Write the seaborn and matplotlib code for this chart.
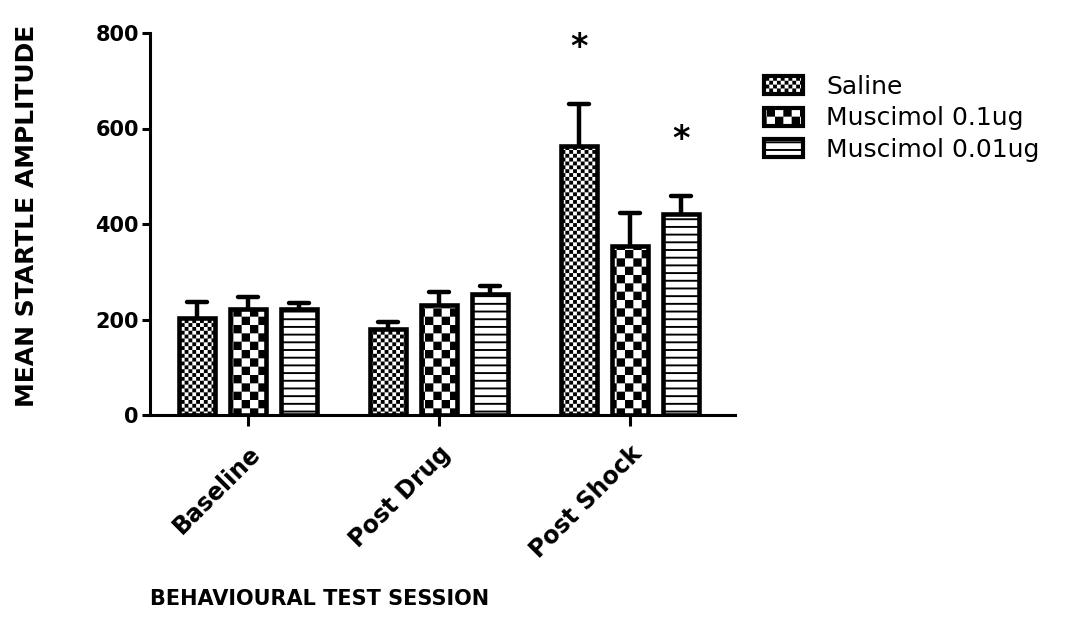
import numpy as np
import pandas as pd
import matplotlib
matplotlib.use("Agg")
import matplotlib.pyplot as plt
import matplotlib.hatch as mhatch
from matplotlib.path import Path
from matplotlib.patches import Patch
from matplotlib.markers import MarkerStyle
import seaborn as sns

# ---------------- data ----------------
sessions = ["Baseline", "Post Drug", "Post Shock"]
groups = ["Saline", "Muscimol 0.1ug", "Muscimol 0.01ug"]
saline_mean = [204, 180, 564]
saline_sem = [32, 14, 87]
musc01_mean = [222, 230, 353]
musc01_sem = [26, 28, 71]
musc001_mean = [223, 253, 421]
musc001_sem = [11, 18, 37]
significant = [("Post Shock", "Saline"), ("Post Shock", "Muscimol 0.01ug")]
yticks = [0, 200, 400, 600, 800]
xlabel = "BEHAVIOURAL TEST SESSION"
ylabel = "MEAN STARTLE AMPLITUDE"


# ---------------- custom fill patterns (checkerboards / bars) ----------------
class PatternHatch:
    """'o' -> fine checkerboard, 'O' -> coarse checkerboard, '-' -> horizontal bars"""

    def __init__(self, hatch, density):
        self.rects = []
        if "o" in hatch:
            self._checker(26)
        elif "O" in hatch:
            self._checker(12)
        elif "-" in hatch:
            n, t = 13, 0.019
            for i in range(n):
                yc = (i + 0.5) / n
                self.rects.append((0.0, yc - t / 2, 1.0, yc + t / 2))
        self.num_vertices = 5 * len(self.rects)

    def _checker(self, n):
        s = 1.0 / n
        for i in range(n):
            for j in range(n):
                if (i + j) % 2 == 0:
                    self.rects.append((i * s, j * s, (i + 1) * s, (j + 1) * s))

    def set_vertices_and_codes(self, vertices, codes):
        for k, (x0, y0, x1, y1) in enumerate(self.rects):
            vertices[5 * k:5 * k + 5] = [(x0, y0), (x1, y0), (x1, y1), (x0, y1), (x0, y0)]
            codes[5 * k:5 * k + 5] = [Path.MOVETO, Path.LINETO, Path.LINETO,
                                      Path.LINETO, Path.CLOSEPOLY]


mhatch._hatch_types = [PatternHatch]
hatches = {"Saline": "o", "Muscimol 0.1ug": "O", "Muscimol 0.01ug": "-"}

# ---------------- style ----------------
sns.set_style("ticks")
plt.rcParams["font.family"] = ["DejaVu Sans"]
plt.rcParams["hatch.linewidth"] = 0.01
plt.rcParams["hatch.color"] = "black"
for key in ("text.color", "axes.labelcolor", "xtick.color", "ytick.color",
            "axes.edgecolor", "xtick.labelcolor", "ytick.labelcolor"):
    plt.rcParams[key] = "black"

means = {"Saline": saline_mean, "Muscimol 0.1ug": musc01_mean, "Muscimol 0.01ug": musc001_mean}
sems = {"Saline": saline_sem, "Muscimol 0.1ug": musc01_sem, "Muscimol 0.01ug": musc001_sem}
rows = []
for g in groups:
    for s, m, e in zip(sessions, means[g], sems[g]):
        rows.append({"session": s, "group": g, "mean": m, "sem": e})
df = pd.DataFrame(rows)

fig = plt.figure(figsize=(10.68, 6.44), dpi=100)
ax = fig.add_axes([150 / 1068, 1 - 415 / 644, 585 / 1068, 382 / 644])

sns.barplot(data=df, x="session", y="mean", hue="group", order=sessions,
            hue_order=groups, palette=["white"] * 3, saturation=1,
            edgecolor="black", linewidth=3.3, gap=0.3, errorbar=None,
            legend=False, ax=ax)

for g, cont in zip(groups, ax.containers):
    for bar in cont:
        bar.set_hatch(hatches[g])
    xs = [b.get_x() + b.get_width() / 2 for b in cont]
    ys = [b.get_height() for b in cont]
    eb = ax.errorbar(xs, ys, yerr=[np.zeros(len(ys)), sems[g]], fmt="none",
                     ecolor="black", elinewidth=3.2, capsize=7, capthick=3.2, zorder=3)
    eb[1][0].set_visible(False)
    for cl in eb[1]:
        cl.set_marker(MarkerStyle("_", capstyle="round"))
    for s, g2 in significant:
        if g2 == g:
            i = sessions.index(s)
            ax.annotate("*", xy=(xs[i], ys[i] + sems[g][i]), xytext=(0, 34),
                        textcoords="offset points", ha="center", va="baseline",
                        fontsize=24, fontweight="bold")

ax.set_xlim(-0.513, 2.55)
ax.set_ylim(0, 800)
ax.set_yticks(yticks)
ax.spines["top"].set_visible(False)
ax.spines["right"].set_visible(False)
for sp in ("left", "bottom"):
    ax.spines[sp].set_linewidth(2.2)
ax.tick_params(axis="y", length=6, width=2.2, labelsize=15, pad=2)
ax.tick_params(axis="x", length=8, width=2.2, labelsize=17, pad=11)
for lab in ax.get_yticklabels():
    lab.set_fontweight("bold")
for lab in ax.get_xticklabels():
    lab.set_fontweight("bold")
    lab.set_rotation(45)
    lab.set_ha("right")
    lab.set_va("top")
    lab.set_rotation_mode("anchor")

ax.set_xlabel(xlabel, fontsize=15, fontweight="bold")
ax.xaxis.set_label_coords(0.29, -0.455)
ax.set_ylabel(ylabel, fontsize=18, fontweight="bold")
ax.yaxis.set_label_coords(-0.19, 0.52)

handles = [Patch(facecolor="white", edgecolor="black", linewidth=3, hatch=hatches[g]) for g in groups]
ax.legend(handles, groups, loc="upper left", bbox_to_anchor=(764 / 1068, 1 - 75 / 644),
          bbox_transform=fig.transFigure, frameon=False, fontsize=18,
          handlelength=1.55, handleheight=0.72, handletextpad=0.95,
          labelspacing=0.3, borderpad=0, borderaxespad=0)

fig.savefig("out.png", dpi=100, facecolor="white")
